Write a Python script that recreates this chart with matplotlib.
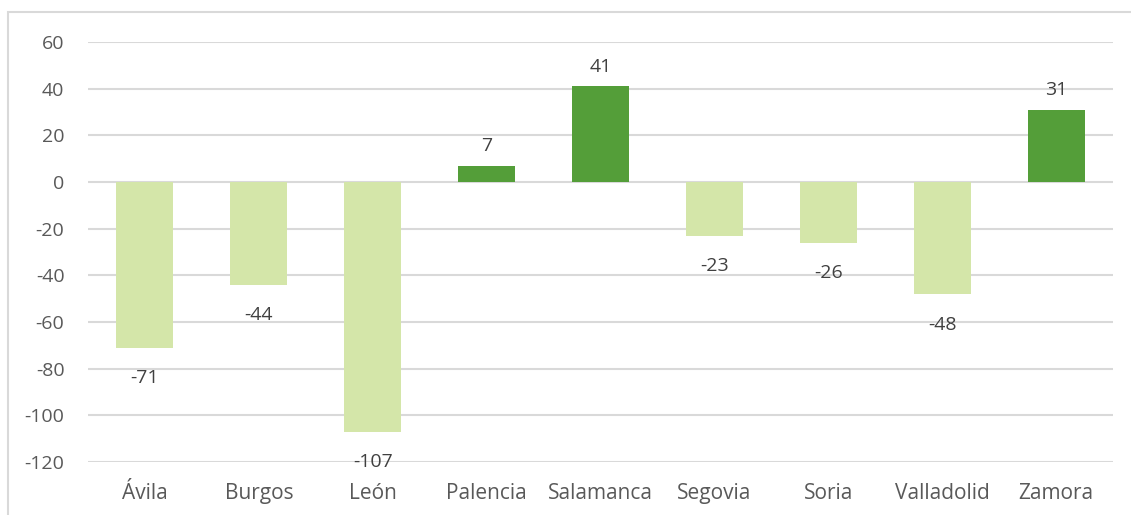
import matplotlib
matplotlib.use("Agg")
import matplotlib.pyplot as plt
from matplotlib.patches import Rectangle

categories = ["Ávila", "Burgos", "León", "Palencia", "Salamanca", "Segovia", "Soria", "Valladolid", "Zamora"]
values = [-71, -44, -107, 7, 41, -23, -26, -48, 31]
yticks = [-120, -100, -80, -60, -40, -20, 0, 20, 40, 60]

POS = "#549E39"
NEG = "#D4E6A9"
TXT = "#595959"
GRID = "#D9D9D9"

plt.rcParams['font.family'] = ['Open Sans', 'DejaVu Sans']

fig = plt.figure(figsize=(11.31, 5.15), dpi=100)
W, H = 1131, 515
ax = fig.add_axes([88 / W, 1 - 462 / H, (1113 - 88) / W, (462 - 42) / H])

x = list(range(len(categories)))
colors = [POS if v >= 0 else NEG for v in values]
ax.bar(x, values, width=0.5, color=colors, zorder=3)

for xi, v in zip(x, values):
    off = 14 if v >= 0 else -22
    ax.annotate(str(v), (xi, v), xytext=(0, off), textcoords="offset points",
                ha="center", va="center", fontsize=14, color="#404040", zorder=4)

ax.set_xlim(-0.5, len(categories) - 0.5)
ax.set_ylim(-120, 60)
ax.set_yticks(yticks)
ax.set_yticklabels([str(t) for t in yticks])
ax.set_xticks(x)
ax.set_xticklabels(categories)
ax.yaxis.grid(True, color=GRID, linewidth=1.5, zorder=0)
ax.set_axisbelow(True)
for s in ax.spines.values():
    s.set_visible(False)
ax.tick_params(axis="both", length=0, labelcolor=TXT)
ax.tick_params(axis="y", pad=17, labelsize=14)
ax.tick_params(axis="x", pad=15, labelsize=15)

fig.patches.append(Rectangle((8 / W, -0.1), 1.2, 1.1 - 12 / H, transform=fig.transFigure,
                             fill=False, edgecolor=GRID, linewidth=1.5))

fig.savefig("out.png", dpi=100)
